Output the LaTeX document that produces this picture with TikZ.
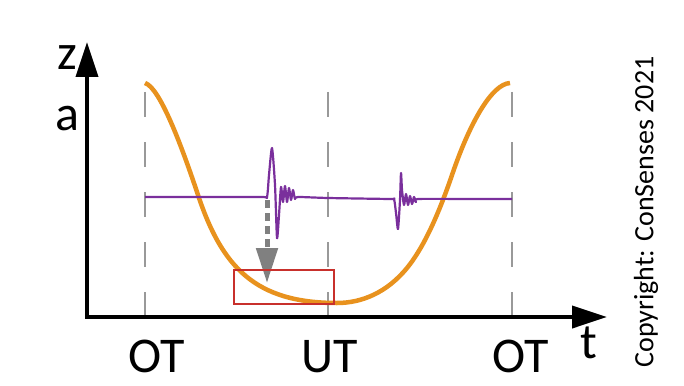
\documentclass[tikz,border=0pt]{standalone}
\usepackage{fontspec}
\setmainfont{Carlito}
\usetikzlibrary{arrows.meta}
\definecolor{crankorange}{HTML}{E8921E}
\definecolor{knockpurple}{HTML}{7A2F9C}
\definecolor{zoomred}{HTML}{C8302C}
\def\drawaxis{\draw[color=black, line width=4pt, {Triangle[length=35pt,width=22pt]}-{Triangle[length=35pt,width=22pt]}]}
\def\drawmark{\draw[color=black!40, line width=2.5pt, dash pattern=on 25pt off 25pt]}
\def\drawcrank{\draw[color=crankorange, line width=4.5pt]}
\def\drawknock{\draw[color=knockpurple, line width=2.2pt, line join=round]}
\def\axislabel{\node[anchor=base, inner sep=0pt, font=\fontsize{50}{50}\selectfont]}

\begin{document}
\begin{tikzpicture}[x=1pt, y=-1pt]
\useasboundingbox (0,0) rectangle (684,385);
\coordinate (o) at (87,317);
\coordinate (ztip) at (87,42);
\coordinate (ttip) at (607,317);
\coordinate (otl) at (145,92);
\coordinate (ut) at (328,92);
\coordinate (otr) at (512,92);
\drawmark (otl) -- (otl |- o);
\drawmark (ut) -- (ut |- o);
\drawmark (otr) -- (otr |- o);
\coordinate (topl) at (145,83);
\coordinate (bdc) at (337,303);
\coordinate (topr) at (510,83);
\drawcrank (topl) .. controls (160,87.5) and (182,147) .. (198,195)
  .. controls (222,267) and (255,303) .. (bdc)
  .. controls (362,303) and (387,292.4) .. (407,268)
  .. controls (422,249.7) and (437,219) .. (452,175)
  .. controls (470,122) and (492,84) .. (topr);
\drawknock plot[smooth, tension=0.4] coordinates {(145,197) (200,197) (262,197) (267,197) (269,175) (272,148) (275,185) (277,238) (279,215) (281,187) (283,202) (285,186) (287,202) (289,188) (291,200) (293,190) (295,199) (298,197) (328,198) (390,199) (394,199) (396,213) (398,229) (400,200) (401,173) (402,190) (404,205) (406,194) (408,205) (410,196) (412,204) (414,197) (416,202) (418,199) (470,199) (512,199)};
\coordinate (pulse) at (267,200);
\coordinate (hit) at (267,283);
\draw[color=black!50, line width=5pt, dash pattern=on 8pt off 5pt, -{Triangle[length=35pt,width=21pt]}] (pulse) -- (hit);
\draw[color=zoomred, line width=2pt] (234,270) rectangle (334,304);
\drawaxis (ztip) |- (ttip);
\axislabel (z) at (67,70) {z};
\axislabel (a) at (67,130) {a};
\axislabel (t) at (589,358) {t};
\axislabel (ot1) at (157,372) {OT};
\axislabel (ut1) at (330,372) {UT};
\axislabel (ot2) at (521,372) {OT};
\node[rotate=90, inner sep=0pt, font=\fontsize{28}{28}\selectfont] (copy) at (646,212) {Copyright: ConSenses 2021};
\end{tikzpicture}
\end{document}
